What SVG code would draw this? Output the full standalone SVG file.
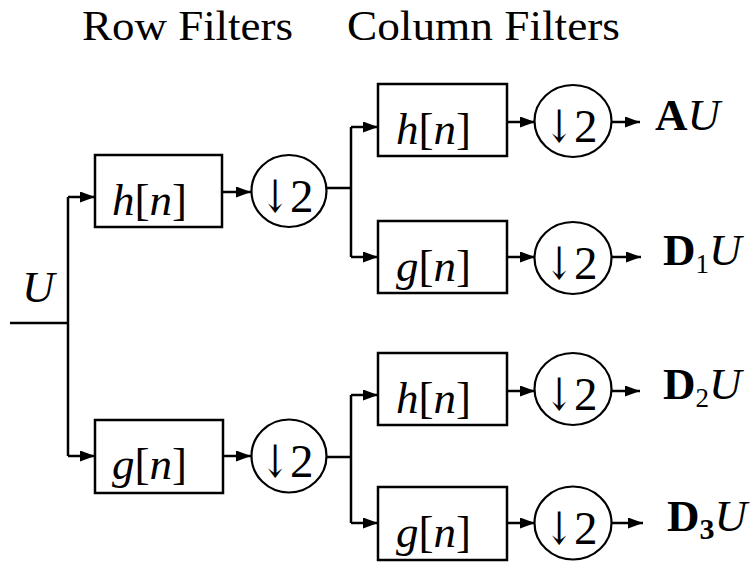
<svg xmlns="http://www.w3.org/2000/svg" width="750" height="564" viewBox="0 0 750 564">
  <style>
    text { font-family: "Liberation Serif", "Times New Roman", serif; fill: #000; }
    .title { font-size: 42px; }
    .lbl { font-size: 45px; }
    .it { font-style: italic; }
    .bf { font-weight: bold; }
    .box { fill: #fff; stroke: #000; stroke-width: 2.5; }
    .ds { fill: #fff; stroke: #000; stroke-width: 2.2; }
    .wire { fill: none; stroke: #000; stroke-width: 2.5; }
    .arr { fill: none; stroke: #000; stroke-width: 2.5; marker-end: url(#head); }
    .two { font-size: 47px; }
    .dn { font-family: "DejaVu Serif", "Liberation Serif", serif; font-size: 45px; }
  </style>
  <defs>
    <marker id="head" viewBox="0 0 15 11" refX="15" refY="5.5" markerWidth="15" markerHeight="11" markerUnits="userSpaceOnUse" orient="auto">
      <path d="M0,0 L15,5.5 L0,11 Z" fill="#000"/>
    </marker>
  </defs>

  <!-- headings -->
  <text class="title" x="82" y="40" textLength="211" lengthAdjust="spacingAndGlyphs">Row Filters</text>
  <text class="title" x="347" y="40" textLength="273" lengthAdjust="spacingAndGlyphs">Column Filters</text>

  <!-- input -->
  <text class="lbl it" x="22" y="302">U</text>

  <!-- connectors -->
  <g id="connectors">
    <path class="wire" d="M10,323 H68 M68,197 V456"/>
    <path class="arr" d="M68,197 H95"/>
    <path class="arr" d="M68,456 H95"/>
    <path class="arr" d="M222,192 H251"/>
    <path class="arr" d="M223,456 H251"/>
    <!-- upper split -->
    <path class="wire" d="M326,188 H351 M351,127 V257"/>
    <path class="arr" d="M351,127 H378"/>
    <path class="arr" d="M351,257 H378"/>
    <path class="arr" d="M507,122 H535"/>
    <path class="arr" d="M507,257 H535"/>
    <path class="arr" d="M612,122 H640"/>
    <path class="arr" d="M612,257 H641"/>
    <!-- lower split -->
    <path class="wire" d="M326,457 H351 M351,395 V523"/>
    <path class="arr" d="M351,395 H378"/>
    <path class="arr" d="M351,523 H378"/>
    <path class="arr" d="M507,391 H535"/>
    <path class="arr" d="M507,523 H535"/>
    <path class="arr" d="M612,391 H640"/>
    <path class="arr" d="M612,523 H643"/>
  </g>

  <!-- row stage -->
  <g id="row-h">
    <rect class="box" x="95" y="155" width="127" height="72"/>
    <text class="lbl" x="112" y="215"><tspan class="it">h</tspan>[<tspan class="it">n</tspan>]</text>
  </g>
  <g id="row-h-down">
    <ellipse class="ds" cx="289" cy="191" rx="37.5" ry="36"/>
    <text class="dn" transform="translate(261,212) scale(0.75,1)">↓</text>
    <text class="two" x="290" y="212">2</text>
  </g>
  <g id="row-g">
    <rect class="box" x="95" y="420" width="128" height="73"/>
    <text class="lbl" x="112" y="479"><tspan class="it">g</tspan>[<tspan class="it">n</tspan>]</text>
  </g>
  <g id="row-g-down">
    <ellipse class="ds" cx="289" cy="456" rx="37.5" ry="36.5"/>
    <text class="dn" transform="translate(261,477) scale(0.75,1)">↓</text>
    <text class="two" x="290" y="477">2</text>
  </g>

  <!-- column stage, upper branch -->
  <g id="col-hh">
    <rect class="box" x="378" y="84" width="129" height="72"/>
    <text class="lbl" x="396" y="144"><tspan class="it">h</tspan>[<tspan class="it">n</tspan>]</text>
  </g>
  <g id="col-hh-down">
    <ellipse class="ds" cx="573" cy="121" rx="38.5" ry="36"/>
    <text class="dn" transform="translate(545,142) scale(0.75,1)">↓</text>
    <text class="two" x="574" y="142">2</text>
  </g>
  <g id="col-hg">
    <rect class="box" x="378" y="221" width="129" height="72"/>
    <text class="lbl" x="396" y="281"><tspan class="it">g</tspan>[<tspan class="it">n</tspan>]</text>
  </g>
  <g id="col-hg-down">
    <ellipse class="ds" cx="573" cy="258" rx="38.5" ry="36"/>
    <text class="dn" transform="translate(545,279) scale(0.75,1)">↓</text>
    <text class="two" x="574" y="279">2</text>
  </g>

  <!-- column stage, lower branch -->
  <g id="col-gh">
    <rect class="box" x="378" y="353" width="129" height="72"/>
    <text class="lbl" x="396" y="413"><tspan class="it">h</tspan>[<tspan class="it">n</tspan>]</text>
  </g>
  <g id="col-gh-down">
    <ellipse class="ds" cx="573" cy="389" rx="38.5" ry="36"/>
    <text class="dn" transform="translate(545,410) scale(0.75,1)">↓</text>
    <text class="two" x="574" y="410">2</text>
  </g>
  <g id="col-gg">
    <rect class="box" x="378" y="487" width="129" height="73"/>
    <text class="lbl" x="396" y="547"><tspan class="it">g</tspan>[<tspan class="it">n</tspan>]</text>
  </g>
  <g id="col-gg-down">
    <ellipse class="ds" cx="573" cy="523" rx="38.5" ry="36.5"/>
    <text class="dn" transform="translate(545,544) scale(0.75,1)">↓</text>
    <text class="two" x="574" y="544">2</text>
  </g>

  <!-- outputs -->
  <g id="out-a">
    <text class="lbl" x="655" y="130"><tspan class="bf">A</tspan><tspan class="it">U</tspan></text>
  </g>
  <g id="out-d1">
    <text class="lbl" x="663" y="265"><tspan class="bf">D</tspan><tspan font-size="27" dy="8">1</tspan><tspan class="it" dy="-8">U</tspan></text>
  </g>
  <g id="out-d2">
    <text class="lbl" x="663" y="399"><tspan class="bf">D</tspan><tspan font-size="27" dy="8">2</tspan><tspan class="it" dy="-8">U</tspan></text>
  </g>
  <g id="out-d3">
    <text class="lbl" x="667" y="531"><tspan class="bf">D</tspan><tspan class="bf" font-size="30" dy="8">3</tspan><tspan class="it" dy="-8">U</tspan></text>
  </g>
</svg>
